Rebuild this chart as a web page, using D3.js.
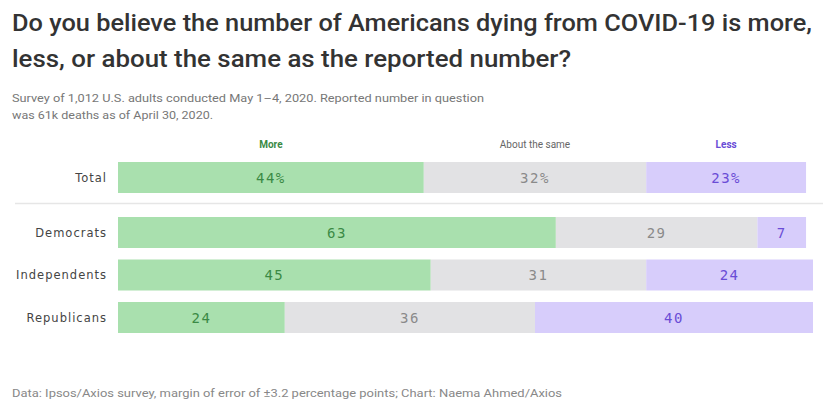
<!DOCTYPE html>
<html><head><meta charset="utf-8">
<script src="https://cdn.jsdelivr.net/npm/d3@7"></script>
<style>
html,body{margin:0;padding:0;background:#fff;}
svg{display:block;}
</style></head>
<body>
<svg id="chart" width="823" height="402"></svg>
<script>
const groups = ["Total", "Democrats", "Independents", "Republicans"];
const seriesNames = ["More", "About the same", "Less"];
const moreVals = [44, 63, 45, 24];
const sameVals = [32, 29, 31, 36];
const lessVals = [23, 7, 24, 40];
const titleLines = ["Do you believe the number of Americans dying from COVID-19 is more,", "less, or about the same as the reported number?"];
const subtitleLines = ["Survey of 1,012 U.S. adults conducted May 1–4, 2020. Reported number in question", "was 61k deaths as of April 30, 2020."];
const footer = "Data: Ipsos/Axios survey, margin of error of ±3.2 percentage points; Chart: Naema Ahmed/Axios";

const fills = ["#a9e0ae", "#e2e2e4", "#d7cdfb"];
const textCols = ["#3b8a45", "#8a8a8a", "#6a4cd6"];
const headCols = ["#3b8a45", "#666", "#6a4cd6"];

const svg = d3.select("#chart");
const font = "Roboto, 'Noto Sans', sans-serif";

svg.append("text").attr("x", 12).attr("y", 31).attr("font-family", font).attr("font-size", 23.5)
  .attr("font-weight", 500).attr("fill", "#333")
  .attr("textLength", 800).attr("lengthAdjust", "spacingAndGlyphs").text(titleLines[0]);
svg.append("text").attr("x", 12).attr("y", 67).attr("font-family", font).attr("font-size", 23.5)
  .attr("font-weight", 500).attr("fill", "#333")
  .attr("textLength", 559).attr("lengthAdjust", "spacingAndGlyphs").text(titleLines[1]);

svg.append("text").attr("x", 12).attr("y", 102).attr("font-family", font).attr("font-size", 11)
  .attr("fill", "#777").attr("textLength", 472).attr("lengthAdjust", "spacingAndGlyphs").text(subtitleLines[0]);
svg.append("text").attr("x", 12).attr("y", 119).attr("font-family", font).attr("font-size", 11)
  .attr("fill", "#777").attr("textLength", 201).attr("lengthAdjust", "spacingAndGlyphs").text(subtitleLines[1]);

svg.append("text").attr("x", 12).attr("y", 397).attr("font-family", font).attr("font-size", 10.5)
  .attr("fill", "#888").attr("textLength", 550).attr("lengthAdjust", "spacingAndGlyphs").text(footer);

const data = groups.map((g, i) => ({group: g, More: moreVals[i], "About the same": sameVals[i], Less: lessVals[i]}));
const stack = d3.stack().keys(seriesNames)(data);

const x = d3.scaleLinear().domain([0, 100]).range([118, 813]);
const y = d3.scaleOrdinal().domain(groups).range([162, 217, 259.5, 302]);
const barH = 31;

stack.forEach((layer, si) => {
  const g = svg.append("g");
  g.selectAll("rect").data(layer).join("rect")
    .attr("x", d => x(d[0]))
    .attr("y", d => y(d.data.group))
    .attr("width", d => x(d[1]) - x(d[0]))
    .attr("height", barH)
    .attr("fill", fills[si]);
  g.selectAll("text").data(layer).join("text")
    .attr("x", d => (x(d[0]) + x(d[1])) / 2)
    .attr("y", d => y(d.data.group) + barH / 2 + 5)
    .attr("text-anchor", "middle")
    .attr("font-family", "'DejaVu Sans Mono', monospace")
    .attr("font-size", 14)
    .attr("letter-spacing", 1.5)
    .attr("fill", textCols[si])
    .text(d => (d[1] - d[0]) + (d.data.group === "Total" ? "%" : ""));
  const tot = layer[0];
  svg.append("text")
    .attr("x", (x(tot[0]) + x(tot[1])) / 2)
    .attr("y", 148)
    .attr("text-anchor", "middle")
    .attr("font-family", font)
    .attr("font-size", 10)
    .attr("font-weight", si === 1 ? 400 : 700)
    .attr("fill", headCols[si])
    .text(seriesNames[si]);
});

svg.selectAll("text.rowlab").data(groups).join("text")
  .attr("class", "rowlab")
  .attr("x", 107)
  .attr("y", g => y(g) + barH / 2 + 4)
  .attr("text-anchor", "end")
  .attr("font-family", "'DejaVu Sans', sans-serif")
  .attr("font-size", 11.5)
  .attr("letter-spacing", 1.0)
  .attr("fill", "#444")
  .text(g => g);

svg.append("line").attr("x1", 15).attr("x2", 823).attr("y1", 203.5).attr("y2", 203.5)
  .attr("stroke", "#e6e6e6").attr("stroke-width", 1.5);
</script>
</body></html>
